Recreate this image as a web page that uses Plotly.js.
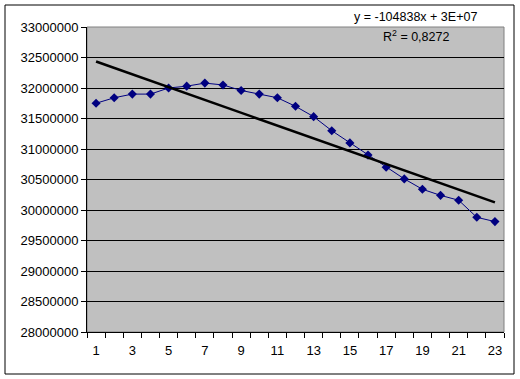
<!DOCTYPE html>
<html>
<head>
<meta charset="utf-8">
<script src="https://cdn.plot.ly/plotly-3.0.1.min.js"></script>
<style>html,body{margin:0;padding:0;background:#fff;}#chart{width:520px;height:379px;}</style>
</head>
<body>
<div id="chart"></div>
<script>
var categories = [1,2,3,4,5,6,7,8,9,10,11,12,13,14,15,16,17,18,19,20,21,22,23];
var values = [31750000,31840000,31900000,31900000,32000000,32030000,32080000,32050000,31960000,31900000,31840000,31700000,31530000,31300000,31100000,30900000,30700000,30510000,30340000,30240000,30160000,29880000,29810000];
var xTickLabels = ['1','3','5','7','9','11','13','15','17','19','21','23'];
var xTickVals = [1,3,5,7,9,11,13,15,17,19,21,23];
var yTickVals = [28000000,28500000,29000000,29500000,30000000,30500000,31000000,31500000,32000000,32500000,33000000];
var trendLabel = 'y = -104838x + 3E+07';
var r2Label = 'R<sup>2</sup> = 0,8272';

// least-squares linear trendline from the data
var n = categories.length, sx=0, sy=0, sxx=0, sxy=0;
for (var i=0;i<n;i++){ sx+=categories[i]; sy+=values[i]; sxx+=categories[i]*categories[i]; sxy+=categories[i]*values[i]; }
var slope = (n*sxy - sx*sy)/(n*sxx - sx*sx);
var intercept = (sy - slope*sx)/n;
var tx = [categories[0], categories[n-1]];
var ty = tx.map(function(x){ return intercept + slope*x; });

var font = {family:'"Liberation Sans", Arial, sans-serif', size:13, color:'#000'};

var data = [
  {x:categories, y:values, type:'scatter', mode:'lines+markers',
   line:{color:'#000080', width:1}, marker:{symbol:'diamond', size:7, color:'#000080'},
   hoverinfo:'skip'},
  {x:tx, y:ty, type:'scatter', mode:'lines', line:{color:'#000', width:2.5}, hoverinfo:'skip'}
];

var layout = {
  width:520, height:379,
  margin:{l:87, r:16, t:27, b:47},
  paper_bgcolor:'#fff', plot_bgcolor:'#c0c0c0',
  showlegend:false,
  font:font,
  xaxis:{range:[0.5,23.5], tickvals:xTickVals, ticktext:xTickLabels, ticks:'outside', ticklen:0,
         tickcolor:'#000', showgrid:false, zeroline:false, showline:true, linecolor:'#000', linewidth:1,
         tickfont:font, fixedrange:true, ticklabelstandoff:6,
         minor:{tick0:0.5, dtick:1, ticks:'outside', ticklen:5, tickcolor:'#000', tickwidth:1, showgrid:false}},
  yaxis:{range:[28000000,33000000], tickvals:yTickVals, ticktext:yTickVals.map(String), ticks:'outside', ticklen:5,
         tickcolor:'#000', showgrid:true, gridcolor:'#000', gridwidth:1, zeroline:false,
         showline:true, linecolor:'#000', linewidth:1, tickfont:font, fixedrange:true},
  shapes:[
    {type:'rect', xref:'paper', yref:'paper', x0:0, x1:1, y0:0, y1:1, line:{color:'#808080', width:1}, layer:'below'},
    {type:'rect', xref:'paper', yref:'paper', x0:(5-87)/417, x1:(514-87)/417, y0:(332-374)/305, y1:(332-5)/305, line:{color:'#000', width:1}}
  ],
  annotations:[
    {xref:'paper', yref:'paper', x:(415.5-87)/417, y:(332-17.5)/305, text:trendLabel, showarrow:false, font:{family:font.family, size:12.5, color:'#000'}, xanchor:'center', yanchor:'middle'},
    {xref:'paper', yref:'paper', x:(416-87)/417, y:(332-36)/305, text:r2Label, showarrow:false, font:{family:font.family, size:12.5, color:'#000'}, xanchor:'center', yanchor:'middle'}
  ]
};

Plotly.newPlot('chart', data, layout, {staticPlot:true, displayModeBar:false});
</script>
</body>
</html>
